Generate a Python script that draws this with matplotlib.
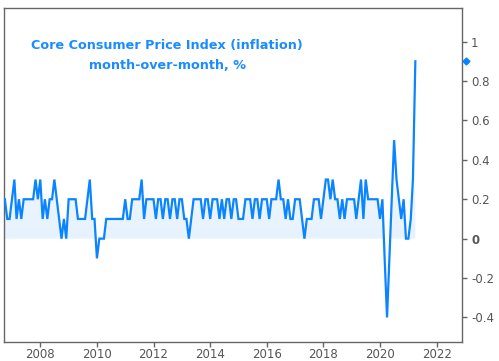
import numpy as np
import pandas as pd
import matplotlib
matplotlib.use("Agg")
import matplotlib.pyplot as plt
import matplotlib.dates as mdates
from matplotlib.transforms import blended_transform_factory
from matplotlib.colors import LinearSegmentedColormap

# Core CPI, month-over-month % (Oct 2006 .. Apr 2021)
start_month = "2006-10-01"
values = [
    0.2, 0.1, 0.1,                                            # 2006 Oct-Dec
    0.2, 0.3, 0.1, 0.2, 0.1, 0.2, 0.2, 0.2, 0.2, 0.2, 0.3, 0.2,  # 2007
    0.3, 0.1, 0.2, 0.1, 0.2, 0.2, 0.3, 0.2, 0.1, 0.0, 0.1, 0.0,  # 2008
    0.2, 0.2, 0.2, 0.2, 0.1, 0.1, 0.1, 0.1, 0.2, 0.3, 0.1, 0.1,  # 2009
    -0.1, 0.0, 0.0, 0.0, 0.1, 0.1, 0.1, 0.1, 0.1, 0.1, 0.1, 0.1,  # 2010
    0.2, 0.1, 0.1, 0.2, 0.2, 0.2, 0.2, 0.3, 0.1, 0.2, 0.2, 0.2,  # 2011
    0.2, 0.1, 0.2, 0.2, 0.1, 0.2, 0.2, 0.1, 0.2, 0.2, 0.1, 0.2,  # 2012
    0.2, 0.1, 0.1, 0.0, 0.1, 0.2, 0.2, 0.2, 0.2, 0.1, 0.2, 0.2,  # 2013
    0.1, 0.2, 0.2, 0.2, 0.1, 0.2, 0.1, 0.2, 0.2, 0.1, 0.2, 0.2,  # 2014
    0.1, 0.1, 0.1, 0.2, 0.2, 0.2, 0.1, 0.2, 0.2, 0.1, 0.2, 0.2,  # 2015
    0.2, 0.1, 0.2, 0.2, 0.2, 0.3, 0.2, 0.2, 0.1, 0.2, 0.1, 0.1,  # 2016
    0.2, 0.2, 0.2, 0.1, 0.0, 0.1, 0.1, 0.1, 0.2, 0.2, 0.2, 0.1,  # 2017
    0.2, 0.3, 0.3, 0.2, 0.3, 0.2, 0.2, 0.1, 0.2, 0.1, 0.2, 0.2,  # 2018
    0.2, 0.2, 0.1, 0.2, 0.3, 0.1, 0.3, 0.2, 0.2, 0.2, 0.2, 0.2,  # 2019
    0.1, 0.2, -0.1, -0.4, -0.1, 0.2, 0.5, 0.3, 0.2, 0.1, 0.2, 0.0,  # 2020
    0.0, 0.1, 0.3, 0.9,                                       # 2021
]
dates = pd.date_range(start_month, periods=len(values), freq="MS")
y_ticks = [-0.4, -0.2, 0, 0.2, 0.4, 0.6, 0.8, 1]
y_tick_labels = ["-0.4", "-0.2", "0", "0.2", "0.4", "0.6", "0.8", "1"]
x_tick_years = [2008, 2010, 2012, 2014, 2016, 2018, 2020, 2022]
title = "Core Consumer Price Index (inflation)\nmonth-over-month, %"

line_color = "#0a84ff"
text_color = "#1a8cff"
grey = "#666666"

fig = plt.figure(figsize=(4.99, 3.61), dpi=100)
ax = fig.add_axes([0.008, 0.054, 0.918, 0.923])

v = np.array(values)
x = mdates.date2num(dates)

ymin, ymax = -0.522, 1.169
xlo = mdates.date2num(pd.Timestamp("2006-09-20"))
xhi = mdates.date2num(pd.Timestamp("2022-11-25"))

# light gradient fill under the line (positive part)
poly = ax.fill_between(x, 0, np.clip(v, 0, None), facecolor="none",
                       edgecolor="none", zorder=1)
grad = np.linspace(0, 1, 256).reshape(-1, 1)
cmap = LinearSegmentedColormap.from_list(
    "g", [(0.0, "#e6f2fe"), (0.45, "#ecf5fe"), (0.7, "#ffffff"), (1.0, "#ffffff")])
im = ax.imshow(grad, aspect="auto", cmap=cmap, origin="lower",
               extent=[x[0], x[-1], 0, 0.45], zorder=1)
im.set_clip_path(poly.get_paths()[0], transform=ax.transData)
ax.set_xlim(xlo, xhi)
ax.set_ylim(ymin, ymax)

ax.plot(x, v, color=line_color, lw=1.6, zorder=3, solid_joinstyle="miter")

# last-value marker on the right axis
trans = blended_transform_factory(ax.transAxes, ax.transData)
ax.plot([1.009], [values[-1]], marker="D", ms=3.5, color=line_color,
        transform=trans, clip_on=False, zorder=4)

# axes styling
for s in ax.spines.values():
    s.set_color(grey)
    s.set_linewidth(1.0)
ax.yaxis.tick_right()
ax.set_yticks(y_ticks)
ax.set_yticklabels(y_tick_labels)
ax.set_xticks([mdates.date2num(pd.Timestamp(f"{yr}-01-01")) for yr in x_tick_years])
ax.set_xticklabels([str(yr) for yr in x_tick_years])
ax.tick_params(axis="both", colors=grey, labelcolor="#555555", labelsize=8.5,
               length=3.5, width=1.0, direction="out")
ax.tick_params(axis="y", pad=3)
ax.tick_params(axis="x", pad=1.5)
for lbl in ax.get_yticklabels():
    if lbl.get_text() == "0":
        lbl.set_fontweight("bold")

ax.text(0.356, 0.907, title, transform=ax.transAxes, ha="center", va="top",
        color=text_color, fontsize=9.2, fontweight="bold", linespacing=1.65)

fig.savefig("out.png", dpi=100)
